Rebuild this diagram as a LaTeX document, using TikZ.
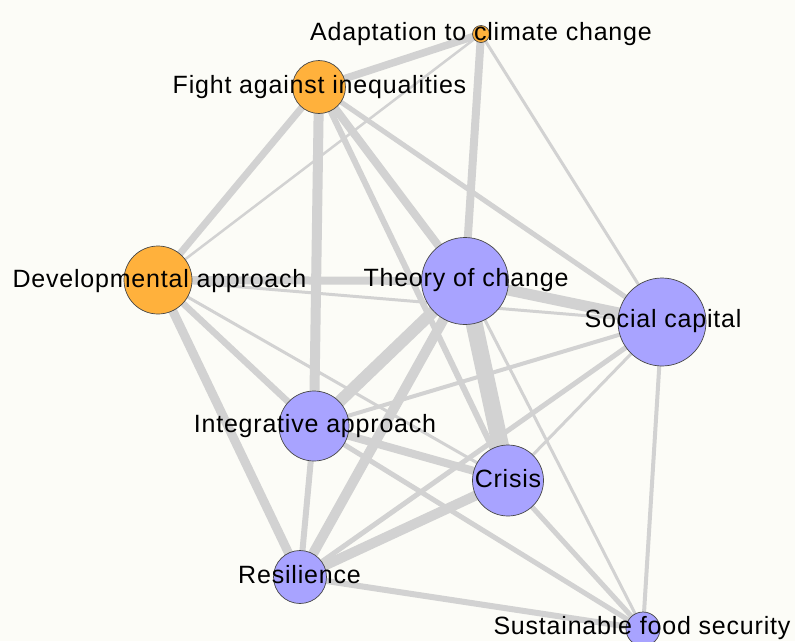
\documentclass[tikz,border=0pt]{standalone}
\usepackage{fontspec}
\setmainfont{Liberation Sans}[LetterSpace=3.2]
\definecolor{bgc}{RGB}{252,252,247}
\definecolor{edgec}{RGB}{210,210,210}
\definecolor{orangec}{RGB}{255,177,60}
\definecolor{bluec}{RGB}{168,163,255}
\definecolor{rimc}{RGB}{70,70,70}
\pgfdeclarelayer{back}
\pgfdeclarelayer{edges}
\pgfsetlayers{back,edges,main}
\tikzset{
  vtx/.style={circle,draw=rimc,line width=0.7pt,inner sep=0pt,outer sep=0pt,minimum size=#1},
  ov/.style={vtx=#1,fill=orangec},
  bv/.style={vtx=#1,fill=bluec},
  lbl/.style={anchor=base,inner sep=0pt,font=\fontsize{25}{29}\selectfont},
  lk/.style={draw=edgec,line width=#1}
}
\begin{document}
\begin{tikzpicture}[x=1pt,y=-1pt]
\useasboundingbox (0,0) rectangle (795,641);
\begin{pgfonlayer}{back}
\fill[bgc] (0,0) rectangle (795,641);
\end{pgfonlayer}
% vertices
\node[ov=17pt] (A) at (481,34) {};
\node[ov=53pt] (F) at (319,87) {};
\node[ov=68pt] (D) at (158,280) {};
\node[bv=87pt] (T) at (465,281) {};
\node[bv=88pt] (S) at (662,322) {};
\node[bv=70pt] (I) at (314,426) {};
\node[bv=71pt] (C) at (508,480.5) {};
\node[bv=53pt] (R) at (300,577) {};
\node[bv=34pt] (Y) at (643,629) {};
% edges
\begin{pgfonlayer}{edges}
\draw[lk=7.5pt] (A.center) -- (F.center);
\draw[lk=8pt] (A.center) -- (T.center);
\draw[lk=3pt] (A.center) -- (S.center);
\draw[lk=2.5pt] (A.center) -- (D.center);
\draw[lk=7pt] (F.center) -- (D.center);
\draw[lk=10pt] (F.center) -- (I.center);
\draw[lk=8pt] (F.center) -- (T.center);
\draw[lk=6pt] (F.center) -- (C.center);
\draw[lk=5pt] (F.center) -- (S.center);
\draw[lk=8pt] (D.center) -- (T.center);
\draw[lk=3pt] (D.center) -- (S.center);
\draw[lk=6.5pt] (D.center) -- (I.center);
\draw[lk=9pt] (D.center) -- (R.center);
\draw[lk=3pt] (D.center) -- (C.center);
\draw[lk=11pt] (T.center) -- (S.center);
\draw[lk=12pt] (T.center) -- (I.center);
\draw[lk=10pt] (T.center) -- (R.center);
\draw[lk=17pt] (T.center) -- (C.center);
\draw[lk=3pt] (T.center) -- (Y.center);
\draw[lk=4pt] (S.center) -- (I.center);
\draw[lk=5pt] (S.center) -- (R.center);
\draw[lk=3pt] (S.center) -- (C.center);
\draw[lk=4pt] (S.center) -- (Y.center);
\draw[lk=8pt] (I.center) -- (C.center);
\draw[lk=6pt] (I.center) -- (R.center);
\draw[lk=5pt] (I.center) -- (Y.center);
\draw[lk=10pt] (C.center) -- (R.center);
\draw[lk=5pt] (C.center) -- (Y.center);
\draw[lk=6pt] (R.center) -- (Y.center);
\end{pgfonlayer}
% labels
\node[lbl] (tA) at (481,40) {Adaptation to climate change};
\node[lbl] (tF) at (319.5,93) {Fight against inequalities};
\node[lbl] (tD) at (159.5,287) {Developmental approach};
\node[lbl] (tT) at (466,286) {Theory of change};
\node[lbl] (tS) at (663,327) {Social capital};
\node[lbl] (tI) at (315,432) {Integrative approach};
\node[lbl] (tC) at (508,487) {Crisis};
\node[lbl] (tR) at (299.5,583) {Resilience};
\node[lbl] (tY) at (642,634) {Sustainable food security};
\end{tikzpicture}
\end{document}
